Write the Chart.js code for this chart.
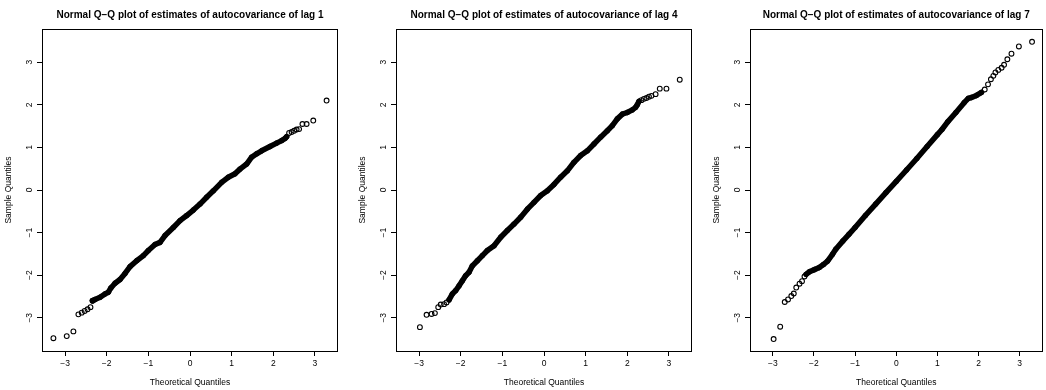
<!DOCTYPE html>
<html><head><meta charset="utf-8">
<script src="https://cdn.jsdelivr.net/npm/chart.js@4.4.1/dist/chart.umd.min.js"></script>
<style>
html,body{margin:0;padding:0;background:#fff;}
#wrap{position:relative;width:1046px;height:390px;overflow:hidden;background:#fff}
canvas{position:absolute;top:0}
</style></head><body>
<div id="wrap">
<canvas id="c1" width="349" height="390" style="left:0px;width:349px;height:390px"></canvas>
<canvas id="c2" width="349" height="390" style="left:349px;width:349px;height:390px"></canvas>
<canvas id="c3" width="348" height="390" style="left:698px;width:348px;height:390px"></canvas>
</div>
<script>
// ---- data ----
const xTicks = [-3, -2, -1, 0, 1, 2, 3];
const yTicks = [-3, -2, -1, 0, 1, 2, 3];
const xRange = [-3.554, 3.554];
const yRange = [-3.78, 3.78];
const plotTitles = [
  'Normal Q\u2212Q plot of estimates of autocovariance of lag 1',
  'Normal Q\u2212Q plot of estimates of autocovariance of lag 4',
  'Normal Q\u2212Q plot of estimates of autocovariance of lag 7'
];
const xAxisTitle = 'Theoretical Quantiles';
const yAxisTitle = 'Sample Quantiles';

// lag 1
const lag1BandX = [-2.34,-2.28,-2.16,-2.04,-1.96,-1.90,-1.80,-1.68,-1.56,-1.44,-1.28,-1.12,-1.00,-0.84,-0.72,-0.60,-0.40,-0.24,-0.08,0.08,0.24,0.40,0.56,0.76,0.92,1.08,1.20,1.36,1.48,1.60,1.72,1.92,2.08,2.20,2.28,2.32];
const lag1BandY = [-2.60,-2.57,-2.52,-2.44,-2.40,-2.30,-2.19,-2.10,-1.96,-1.80,-1.66,-1.54,-1.42,-1.28,-1.23,-1.07,-0.88,-0.72,-0.60,-0.47,-0.33,-0.17,-0.02,0.18,0.30,0.38,0.49,0.61,0.77,0.85,0.92,1.02,1.10,1.16,1.21,1.25];
const lag1PointX = [-3.28,-2.96,-2.80,-2.68,-2.60,-2.53,-2.46,-2.39,-2.34, 2.38,2.44,2.50,2.56,2.62,2.70,2.80,2.96,3.28];
const lag1PointY = [-3.48,-3.43,-3.32,-2.92,-2.88,-2.84,-2.80,-2.75,-2.60, 1.34,1.36,1.39,1.42,1.43,1.55,1.55,1.63,2.10];

// lag 4
const lag4BandX = [-2.28,-2.20,-2.12,-2.04,-1.96,-1.88,-1.80,-1.72,-1.60,-1.48,-1.36,-1.20,-1.04,-0.88,-0.72,-0.56,-0.40,-0.24,-0.08,0.08,0.24,0.40,0.56,0.72,0.88,1.04,1.20,1.36,1.52,1.64,1.76,1.88,2.00,2.12,2.20,2.24,2.28];
const lag4BandY = [-2.58,-2.44,-2.36,-2.25,-2.13,-2.01,-1.93,-1.78,-1.66,-1.54,-1.42,-1.31,-1.11,-0.95,-0.80,-0.64,-0.45,-0.29,-0.13,-0.02,0.13,0.30,0.45,0.65,0.81,0.92,1.08,1.24,1.39,1.51,1.67,1.78,1.82,1.88,1.94,2.00,2.08];
const lag4PointX = [-2.98,-2.82,-2.70,-2.62,-2.54,-2.48,-2.40,-2.34, 2.34,2.40,2.46,2.52,2.58,2.68,2.78,2.94,3.26];
const lag4PointY = [-3.22,-2.93,-2.91,-2.89,-2.75,-2.69,-2.68,-2.64, 2.11,2.14,2.16,2.19,2.21,2.25,2.38,2.38,2.59];

// lag 7
const lag7BandX = [-2.19,-2.11,-1.99,-1.87,-1.77,-1.67,-1.55,-1.47,-1.30,-1.15,-1.00,-0.75,-0.50,-0.25,0.00,0.25,0.50,0.75,1.00,1.11,1.25,1.45,1.65,1.75,1.82,1.95,2.07];
const lag7BandY = [-1.98,-1.92,-1.87,-1.82,-1.75,-1.67,-1.51,-1.39,-1.20,-1.04,-0.88,-0.60,-0.33,-0.06,0.20,0.47,0.74,1.02,1.30,1.42,1.60,1.82,2.05,2.15,2.17,2.22,2.29];
const lag7PointX = [-2.98,-2.82,-2.71,-2.63,-2.55,-2.49,-2.43,-2.35,-2.29,-2.23, 2.15,2.23,2.30,2.36,2.41,2.48,2.56,2.62,2.70,2.80,2.98,3.30];
const lag7PointY = [-3.50,-3.21,-2.63,-2.57,-2.49,-2.43,-2.29,-2.20,-2.14,-2.03, 2.36,2.48,2.60,2.68,2.76,2.82,2.87,2.94,3.07,3.20,3.37,3.48];

// ---- rendering ----
const FAMILY = '"Liberation Sans", Arial, Helvetica, sans-serif';
const AXIS_FS = 8.5;
const fmt = v => (v < 0 ? '\u2212' + Math.abs(v) : String(v));
const pts = (xs, ys) => xs.map((x, i) => ({ x: x, y: ys[i] }));

const boxPlugin = {
  id: 'rbox',
  afterDraw(chart) {
    const { ctx, chartArea: a } = chart;
    const ys = chart.scales.y;
    ctx.save();
    ctx.strokeStyle = '#000';
    ctx.lineWidth = 1;
    const l = Math.round(a.left), t = Math.round(a.top), r = Math.round(a.right), b = Math.round(a.bottom);
    ctx.strokeRect(l + 0.5, t + 0.5, r - l - 1, b - t);
    ctx.fillStyle = '#000';
    ctx.font = AXIS_FS + 'px ' + FAMILY;
    ctx.textAlign = 'center';
    ctx.textBaseline = 'middle';
    yTicks.forEach(v => {
      const py = ys.getPixelForValue(v);
      ctx.save();
      ctx.translate(a.left - 12, py);
      ctx.rotate(-Math.PI / 2);
      ctx.fillText(fmt(v), 0, 0);
      ctx.restore();
    });
    ctx.restore();
  }
};

function makeChart(id, title, bx, by, px, py, yW, padR) {
  const lineH = AXIS_FS * 1.2;
  new Chart(document.getElementById(id), {
    type: 'scatter',
    data: {
      datasets: [
        {
          data: pts(bx, by), showLine: true, borderColor: '#000', borderWidth: 5.5,
          borderCapStyle: 'round', borderJoinStyle: 'round', tension: 0,
          pointRadius: 2.4, pointBorderWidth: 1, pointBorderColor: '#000',
          pointBackgroundColor: 'rgba(0,0,0,0)', pointHoverRadius: 2.4
        },
        {
          data: pts(px, py), showLine: false,
          pointRadius: 2.4, pointBorderWidth: 1.1, pointBorderColor: '#000',
          pointBackgroundColor: 'rgba(0,0,0,0)', pointHoverRadius: 2.4
        }
      ]
    },
    options: {
      responsive: false, animation: false, devicePixelRatio: 1,
      layout: { padding: { left: 0, right: padR, top: 0, bottom: 0 } },
      plugins: {
        legend: { display: false },
        tooltip: { enabled: false },
        title: {
          display: true, text: title, fullSize: false, color: '#000',
          font: { family: FAMILY, size: 10, weight: 'bold', lineHeight: 1.2 },
          padding: { top: 9, bottom: 8 }
        }
      },
      scales: {
        x: {
          type: 'linear', min: xRange[0], max: xRange[1],
          afterBuildTicks: s => { s.ticks = xTicks.map(v => ({ value: v })); },
          afterFit: s => { s.height = 39; },
          grid: { display: true, drawOnChartArea: false, drawTicks: true, tickLength: 5, color: '#000', lineWidth: 1 },
          border: { display: false },
          ticks: { padding: 3, color: '#000', autoSkip: false, maxRotation: 0, minRotation: 0,
                   font: { family: FAMILY, size: AXIS_FS }, callback: v => fmt(v) },
          title: { display: true, text: xAxisTitle, color: '#000',
                   font: { family: FAMILY, size: AXIS_FS, lineHeight: 1.2 }, padding: { top: 0, bottom: 2 } }
        },
        y: {
          type: 'linear', min: yRange[0], max: yRange[1],
          afterBuildTicks: s => { s.ticks = yTicks.map(v => ({ value: v })); },
          afterFit: s => { s.width = yW; },
          grid: { display: true, drawOnChartArea: false, drawTicks: true, tickLength: 5, color: '#000', lineWidth: 1 },
          border: { display: false },
          ticks: { padding: 3, color: '#000', font: { family: FAMILY, size: AXIS_FS }, callback: () => '' },
          title: { display: true, text: yAxisTitle, color: '#000',
                   font: { family: FAMILY, size: AXIS_FS, lineHeight: 1.2 },
                   padding: { top: yW - 33 - lineH / 2, bottom: 0 } }
        }
      }
    },
    plugins: [boxPlugin]
  });
}

makeChart('c1', plotTitles[0], lag1BandX, lag1BandY, lag1PointX, lag1PointY, 42, 11);
makeChart('c2', plotTitles[1], lag4BandX, lag4BandY, lag4PointX, lag4PointY, 47, 6);
makeChart('c3', plotTitles[2], lag7BandX, lag7BandY, lag7PointX, lag7PointY, 52, 1);
</script>
</body></html>
